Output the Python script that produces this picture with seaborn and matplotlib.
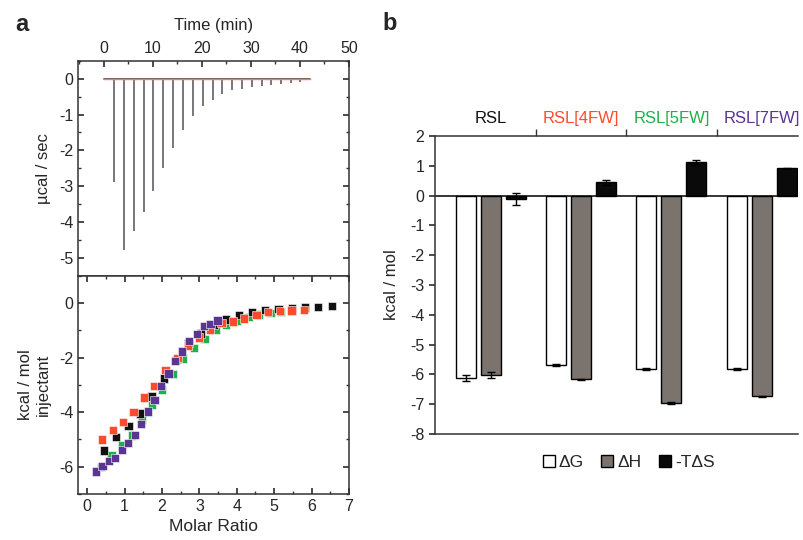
#! /usr/bin/env python3

"""ITC binding of RSL variants: raw trace, integrated heats and thermodynamic signature."""

import matplotlib.pyplot as plt
import pandas as pd
import seaborn as sns
from matplotlib.lines import Line2D
from matplotlib.ticker import MultipleLocator

# ---- panel a (top): raw ITC trace ----
injection_times = [2.1, 4.1, 6.1, 8.1, 10.1, 12.1, 14.1, 16.2, 18.2, 20.2,
                   22.2, 24.2, 26.2, 28.2, 30.2, 32.2, 34.2, 36.2, 38.2, 40.1]
peak_heights = [-2.89, -4.77, -4.24, -3.71, -3.13, -2.49, -1.92, -1.44, -1.05, -0.77,
                -0.59, -0.42, -0.33, -0.28, -0.23, -0.20, -0.17, -0.16, -0.13, -0.10]
run_span = [0, 42]

# ---- panel a (bottom): integrated heats ----
rsl_ratio = [0.45, 0.77, 1.10, 1.41, 1.72, 2.05, 2.38, 2.71, 3.04, 3.38,
             3.72, 4.06, 4.40, 4.76, 5.12, 5.47, 5.83, 6.18, 6.54]
rsl_heat = [-5.40, -4.90, -4.51, -4.05, -3.42, -2.76, -2.08, -1.45, -1.11, -0.80,
            -0.60, -0.44, -0.33, -0.26, -0.20, -0.17, -0.16, -0.13, -0.11]
fw4_ratio = [0.40, 0.68, 0.96, 1.24, 1.52, 1.80, 2.09, 2.41, 2.69, 2.98,
             3.28, 3.59, 3.90, 4.20, 4.53, 4.83, 5.16, 5.46, 5.79]
fw4_heat = [-5.00, -4.66, -4.35, -3.98, -3.46, -3.04, -2.46, -2.02, -1.55, -1.26,
            -0.99, -0.72, -0.67, -0.56, -0.43, -0.33, -0.28, -0.27, -0.24]
fw5_ratio = [0.36, 0.65, 0.92, 1.19, 1.46, 1.73, 2.00, 2.29, 2.56, 2.85,
             3.14, 3.43, 3.71, 4.01, 4.31, 4.60, 4.90, 5.19, 5.48]
fw5_heat = [-6.01, -5.58, -5.22, -4.85, -4.27, -3.74, -3.17, -2.59, -2.03, -1.64,
            -1.31, -0.99, -0.81, -0.66, -0.50, -0.41, -0.35, -0.32, -0.29]
fw7_ratio = [0.24, 0.41, 0.58, 0.75, 0.93, 1.09, 1.27, 1.44, 1.63, 1.80,
             1.98, 2.17, 2.35, 2.54, 2.73, 2.93, 3.12, 3.30, 3.48]
fw7_heat = [-6.18, -5.98, -5.79, -5.67, -5.39, -5.13, -4.84, -4.42, -3.97, -3.54,
            -3.04, -2.58, -2.13, -1.77, -1.39, -1.12, -0.84, -0.76, -0.63]

# ---- panel b: thermodynamic signature ----
constructs = ["RSL", "RSL[4FW]", "RSL[5FW]", "RSL[7FW]"]
terms = ["\u0394G", "\u0394H", "-T\u0394S"]
dG = [-6.11, -5.68, -5.82, -5.82]
dG_err = [0.10, 0.03, 0.02, 0.02]
dH = [-6.02, -6.17, -6.97, -6.73]
dH_err = [0.10, 0.03, 0.03, 0.02]
mTdS = [-0.13, 0.45, 1.12, 0.92]
mTdS_err = [0.20, 0.08, 0.09, 0.02]

construct_colors = ["#111111", "#ff4b2b", "#1fb04a", "#5b3593"]
term_colors = ["#ffffff", "#7a736e", "#0a0a0a"]

sns.set_theme(style="ticks")
plt.rcParams["font.family"] = ["Liberation Sans", "DejaVu Sans"]
plt.rcParams["axes.edgecolor"] = "#333333"
plt.rcParams["axes.linewidth"] = 1.1

fig = plt.figure(figsize=(8.04, 5.40), dpi=100)

# ---------------- panel a, raw trace ----------------
ax1 = fig.add_axes([0.0974, 0.4889, 0.3366, 0.3987])
ax1.vlines(injection_times, peak_heights, 0, color="#55505a", lw=1.1)
ax1.plot(run_span, [0, 0], color="#444444", lw=1.2)
ax1.plot(run_span, [0, 0], color="#f07a6a", lw=1.0)
ax1.set_xlim(-5.2, 50)
ax1.set_ylim(-5.5, 0.5)
ax1.xaxis.set_major_locator(MultipleLocator(10))
ax1.xaxis.set_minor_locator(MultipleLocator(5))
ax1.yaxis.set_major_locator(MultipleLocator(1))
ax1.yaxis.set_minor_locator(MultipleLocator(0.5))
ax1.tick_params(which="both", direction="in", top=True, bottom=False, left=True,
                right=True, labeltop=True, labelbottom=False, labelsize=11.5,
                color="#333333")
ax1.tick_params(which="major", length=4)
ax1.tick_params(which="minor", length=2.5)
ax1.xaxis.set_label_position("top")
ax1.set_xlabel("Time (min)", fontsize=12, labelpad=8)
ax1.set_ylabel("\u00b5cal / sec", fontsize=12, labelpad=6)
ax1.set_yticks(range(-5, 1))
ax1.set_yticklabels([str(v) for v in range(-5, 1)])

# ---------------- panel a, integrated heats ----------------
heats = pd.concat([
    pd.DataFrame({"ratio": fw5_ratio, "heat": fw5_heat, "construct": "RSL[5FW]"}),
    pd.DataFrame({"ratio": rsl_ratio, "heat": rsl_heat, "construct": "RSL"}),
    pd.DataFrame({"ratio": fw4_ratio, "heat": fw4_heat, "construct": "RSL[4FW]"}),
    pd.DataFrame({"ratio": fw7_ratio, "heat": fw7_heat, "construct": "RSL[7FW]"}),
], ignore_index=True)

ax2 = fig.add_axes([0.0974, 0.0852, 0.3366, 0.4037])
sns.scatterplot(data=heats, x="ratio", y="heat", hue="construct",
                palette=dict(zip(constructs, construct_colors)),
                marker="s", s=36, edgecolor="white", linewidth=0.4,
                legend=False, ax=ax2)
ax2.set_xlim(-0.24, 7)
ax2.set_ylim(-7, 1)
ax2.xaxis.set_major_locator(MultipleLocator(1))
ax2.xaxis.set_minor_locator(MultipleLocator(0.5))
ax2.yaxis.set_major_locator(MultipleLocator(2))
ax2.yaxis.set_minor_locator(MultipleLocator(1))
ax2.tick_params(which="both", direction="in", top=True, bottom=True, left=True,
                right=True, labelsize=11.5, color="#333333")
ax2.tick_params(which="major", length=4)
ax2.tick_params(which="minor", length=2.5)
ax2.set_yticks([-6, -4, -2, 0])
ax2.set_yticklabels(["-6", "-4", "-2", "0"])
ax2.set_xlabel("Molar Ratio", fontsize=12.5, labelpad=4)
ax2.set_ylabel("kcal / mol\ninjectant", fontsize=12, labelpad=6)

# ---------------- panel b ----------------
thermo = pd.DataFrame({
    "construct": constructs * 3,
    "term": [t for t in terms for _ in constructs],
    "value": dG + dH + mTdS,
})

ax3 = fig.add_axes([0.5407, 0.1963, 0.4518, 0.5519])
sns.barplot(data=thermo, x="construct", y="value", hue="term",
            order=constructs, hue_order=terms,
            palette=dict(zip(terms, term_colors)), saturation=1,
            edgecolor="black", linewidth=1, errorbar=None,
            width=0.83, gap=0.2, legend=False, ax=ax3)

for container, vals, errs in zip(ax3.containers, [dG, dH, mTdS],
                                 [dG_err, dH_err, mTdS_err]):
    xs = [p.get_x() + p.get_width() / 2 for p in container]
    ax3.errorbar(xs, vals, yerr=errs, fmt="none", ecolor="black",
                 elinewidth=1, capsize=3, capthick=1)

ax3.axhline(0, color="black", lw=1.1)
ax3.set_xlim(-0.62, 3.4)
ax3.set_ylim(-8, 2)
ax3.set_yticks(range(-8, 3))
ax3.set_yticklabels([str(v) for v in range(-8, 3)])
ax3.spines["right"].set_visible(False)

ax3.xaxis.tick_top()
ax3.set_xticks(range(len(constructs)))
ax3.set_xticklabels(constructs)
ax3.set_xticks([0.5, 1.5, 2.5], minor=True)
ax3.tick_params(axis="x", which="major", length=0, pad=7, labelsize=12)
ax3.tick_params(axis="x", which="minor", length=5, direction="out", color="#333333")
ax3.tick_params(axis="y", which="major", length=4, direction="out",
                labelsize=11.5, color="#333333")
for lbl, c in zip(ax3.get_xticklabels(), construct_colors):
    lbl.set_color(c)
ax3.set_xlabel("")
ax3.set_ylabel("kcal / mol", fontsize=12, labelpad=8)

handles = [Line2D([], [], marker="s", ls="none", markersize=9,
                  markerfacecolor=c, markeredgecolor="black", markeredgewidth=1)
           for c in term_colors]
ax3.legend(handles, terms, loc="center", bbox_to_anchor=(0.53, -0.097), ncol=3,
           frameon=False, handletextpad=0.05, columnspacing=0.9,
           handlelength=1.0, fontsize=12.5)

fig.text(0.019, 0.954, "a", fontsize=17, fontweight="bold", va="center")
fig.text(0.476, 0.957, "b", fontsize=17, fontweight="bold", va="center")

plt.savefig("out.png", dpi=100)
plt.close()
